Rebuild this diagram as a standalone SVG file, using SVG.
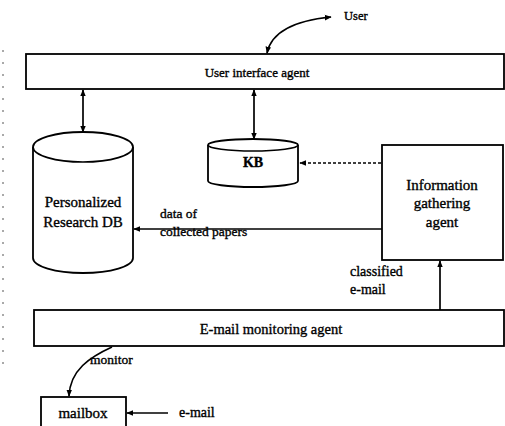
<svg xmlns="http://www.w3.org/2000/svg" width="505" height="426" viewBox="0 0 505 426">
<style>
.box{fill:#fff;stroke:#000;stroke-width:1.8}
.t{font-family:"Liberation Serif","Times New Roman",serif;fill:#000;stroke:#000;stroke-width:0.35;text-anchor:middle}
.l{font-family:"Liberation Serif","Times New Roman",serif;fill:#000;stroke:#000;stroke-width:0.35}
.c{fill:none;stroke:#000;stroke-width:1.7}
.d{fill:none;stroke:#000;stroke-width:1.3;stroke-dasharray:3 2}
</style>
<defs>
<marker id="ah" viewBox="0 0 10 10" refX="9" refY="5" markerWidth="7" markerHeight="7" orient="auto-start-reverse" markerUnits="userSpaceOnUse">
<path d="M0,1 L10,5 L0,9 z" fill="#000"/>
</marker>
</defs>
<rect width="505" height="426" fill="#fff"/>
<line x1="3" y1="50" x2="3" y2="372" stroke="#555" stroke-width="1" stroke-dasharray="2 10"/>
<g id="ui-agent">
<rect class="box" x="26" y="54" width="478" height="35"/>
<text class="t" x="257" y="77" font-size="13">User interface agent</text>
</g>
<g id="user">
<text class="l" x="344" y="20" font-size="12.5">User</text>
</g>
<g id="research-db">
<path class="box" d="M33,147 A50,15 0 0 1 133,147 L133,258 A50,15 0 0 1 33,258 Z"/>
<path class="c" d="M33,147 A50,15 0 0 0 133,147"/>
<text class="t" x="83" y="207" font-size="15">Personalized</text>
<text class="t" x="83" y="227" font-size="15">Research DB</text>
</g>
<g id="kb">
<path class="box" d="M208,145 A45,6 0 0 1 298,145 L298,181 A45,6 0 0 1 208,181 Z"/>
<path class="c" d="M208,145 A45,6 0 0 0 298,145"/>
<text class="t" x="253" y="167" font-size="14" font-weight="bold">KB</text>
</g>
<g id="info-agent">
<rect class="box" x="382" y="145" width="121" height="115"/>
<text class="t" x="442" y="190" font-size="15">Information</text>
<text class="t" x="442" y="208" font-size="15">gathering</text>
<text class="t" x="442" y="227" font-size="15">agent</text>
</g>
<g id="email-agent">
<rect class="box" x="34" y="310" width="470" height="36"/>
<text class="t" x="271" y="334" font-size="14.5">E-mail monitoring agent</text>
</g>
<g id="mailbox">
<rect class="box" x="41" y="397" width="85" height="40"/>
<text class="t" x="83" y="418" font-size="15">mailbox</text>
</g>
<g id="connectors">
<path class="c" d="M267,53 C271,34 290,21 331,17" marker-start="url(#ah)" marker-end="url(#ah)"/>
<line class="c" x1="83" y1="90" x2="83" y2="132" marker-start="url(#ah)" marker-end="url(#ah)"/>
<line class="c" x1="254" y1="90" x2="254" y2="139" marker-start="url(#ah)" marker-end="url(#ah)"/>
<line class="d" x1="381" y1="163" x2="300" y2="163" marker-end="url(#ah)"/>
<line class="c" x1="382" y1="229" x2="134" y2="229" marker-end="url(#ah)"/>
<line class="c" x1="440" y1="310" x2="440" y2="261" marker-end="url(#ah)"/>
<path class="c" d="M112,347 C90,357 70,370 69,396" marker-end="url(#ah)"/>
<line class="c" x1="168" y1="413" x2="127" y2="413" marker-end="url(#ah)"/>
<text class="l" x="160" y="218" font-size="13.5">data of</text>
<text class="l" x="160" y="236" font-size="13.5">collected papers</text>
<text class="l" x="350" y="276" font-size="14">classified</text>
<text class="l" x="350" y="294" font-size="14">e-mail</text>
<text class="l" x="90" y="364" font-size="13.5">monitor</text>
<text class="l" x="179" y="417" font-size="14">e-mail</text>
</g>
</svg>
